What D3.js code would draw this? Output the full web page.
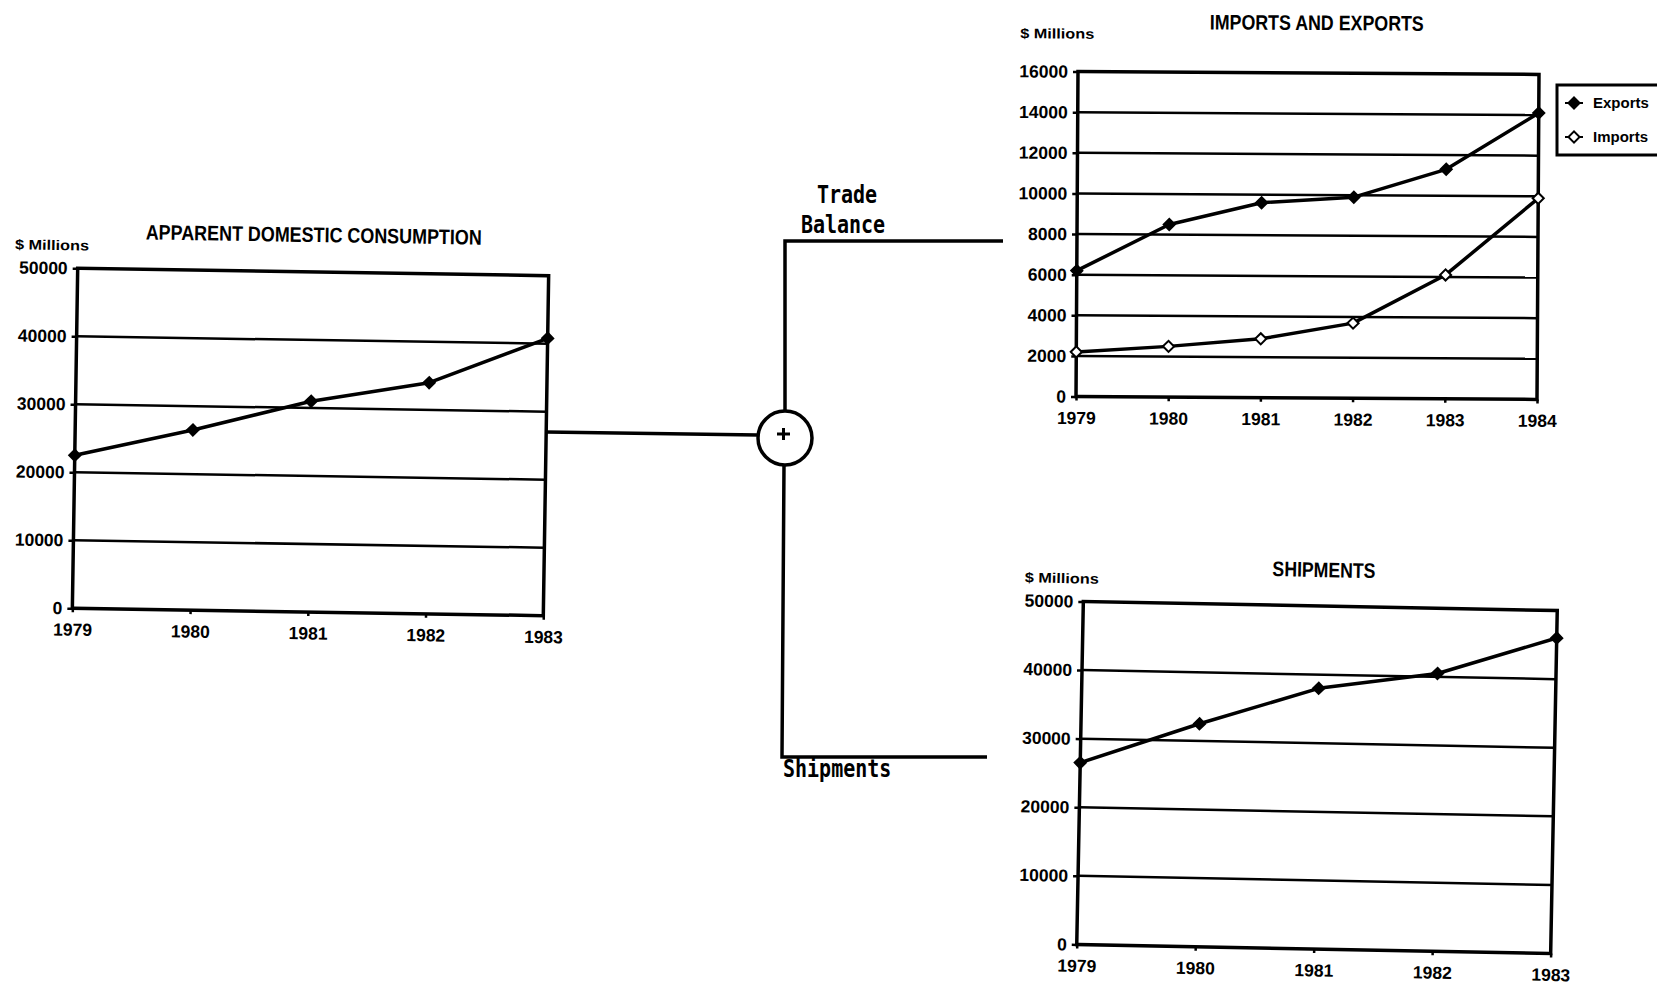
<!DOCTYPE html>
<html>
<head>
<meta charset="utf-8">
<script src="https://cdn.jsdelivr.net/npm/d3@7"></script>
<style>
  html, body { margin: 0; padding: 0; background: #fff; }
  svg { display: block; }
</style>
</head>
<body>
<svg id="chart" width="1657" height="985"></svg>
<script>
// Apparent domestic consumption, $ millions
const consumptionYears = ["1979", "1980", "1981", "1982", "1983"];
const consumptionValues = [22500, 26500, 31000, 34000, 40800];
const consumptionTicks = [0, 10000, 20000, 30000, 40000, 50000];

// Imports and exports, $ millions
const tradeYears = ["1979", "1980", "1981", "1982", "1983", "1984"];
const exportValues = [6200, 8500, 9600, 9900, 11300, 14100];
const importValues = [2200, 2500, 2900, 3700, 6100, 9900];
const tradeTicks = [0, 2000, 4000, 6000, 8000, 10000, 12000, 14000, 16000];
const tradeSeriesNames = ["Exports", "Imports"];

// Shipments, $ millions
const shipmentYears = ["1979", "1980", "1981", "1982", "1983"];
const shipmentValues = [26500, 32500, 38000, 40500, 46000];
const shipmentTicks = [0, 10000, 20000, 30000, 40000, 50000];

// Diagram labels
const titles = ["APPARENT DOMESTIC CONSUMPTION", "IMPORTS AND EXPORTS", "SHIPMENTS"];
const unitLabel = "$ Millions";
const flowLabels = ["Trade", "Balance", "Shipments"];

const svg = d3.select("#chart");
const FONT = "'Liberation Sans', Arial, Helvetica, sans-serif";
const MONO = "'DejaVu Sans Mono', 'Liberation Mono', monospace";

function diamond(sel, filled) {
  sel.attr("d", d3.symbol(d3.symbolSquare, 62))
    .attr("fill", filled ? "#000" : "#fff")
    .attr("stroke", "#000")
    .attr("stroke-width", 2);
}

function panel(cfg) {
  const cx = cfg.left + cfg.width / 2, cy = cfg.top + cfg.height / 2;
  const g = svg.append("g").attr("transform", `rotate(${cfg.angle},${cx},${cy})`);
  const x = d3.scalePoint().domain(cfg.years).range([cfg.left, cfg.left + cfg.width]);
  const y = d3.scaleLinear().domain([0, d3.max(cfg.ticks)]).range([cfg.top + cfg.height, cfg.top]);

  // horizontal gridlines
  g.append("g").selectAll("line").data(cfg.ticks.slice(1, -1)).join("line")
    .attr("x1", cfg.left).attr("x2", cfg.left + cfg.width)
    .attr("y1", d => y(d)).attr("y2", d => y(d))
    .attr("stroke", "#000").attr("stroke-width", 2.5);

  // value axis
  const yAxis = g.append("g").attr("transform", `translate(${cfg.left},0)`)
    .call(d3.axisLeft(y).tickValues(cfg.ticks).tickSize(5).tickPadding(5).tickFormat(d3.format("d")));
  yAxis.select(".domain").remove();
  yAxis.attr("font-family", FONT).attr("font-size", 17.5).attr("font-weight", "bold");
  yAxis.selectAll(".tick line").attr("stroke", "#000").attr("stroke-width", 2.5);
  yAxis.selectAll(".tick text").attr("fill", "#000");

  // year axis
  const xAxis = g.append("g").attr("transform", `translate(0,${cfg.top + cfg.height})`)
    .call(d3.axisBottom(x).tickSize(4).tickPadding(11));
  xAxis.select(".domain").remove();
  xAxis.attr("font-family", FONT).attr("font-size", 17.5).attr("font-weight", "bold");
  xAxis.selectAll(".tick line").attr("stroke", "#000").attr("stroke-width", 2.5);
  xAxis.selectAll(".tick text").attr("fill", "#000");

  // plot frame
  g.append("rect")
    .attr("x", cfg.left).attr("y", cfg.top)
    .attr("width", cfg.width).attr("height", cfg.height)
    .attr("fill", "none").attr("stroke", "#000").attr("stroke-width", 3.5);

  // series lines and markers
  cfg.series.forEach(s => {
    g.append("path").datum(s.values)
      .attr("d", d3.line().x((d, i) => x(cfg.years[i])).y(d => y(d)))
      .attr("fill", "none").attr("stroke", "#000")
      .attr("stroke-width", 3.5).attr("stroke-linejoin", "round");
    g.append("g").selectAll("path").data(s.values).join("path")
      .call(diamond, s.filled)
      .attr("transform", (d, i) => `translate(${x(cfg.years[i])},${y(d)}) rotate(45)`);
  });

  // title
  g.append("text")
    .attr("x", cx + cfg.titleDx).attr("y", cfg.top - cfg.titleDy)
    .attr("text-anchor", "middle")
    .attr("font-family", FONT).attr("font-size", 21).attr("font-weight", "bold")
    .attr("textLength", cfg.titleLen).attr("lengthAdjust", "spacingAndGlyphs")
    .text(cfg.title);

  // unit label
  g.append("text")
    .attr("x", cfg.left - cfg.unitDx).attr("y", cfg.top - cfg.unitDy)
    .attr("font-family", FONT).attr("font-size", 14).attr("font-weight", "bold")
    .attr("textLength", 74).attr("lengthAdjust", "spacingAndGlyphs")
    .text(unitLabel);

  return { x, y };
}

const consumption = { left: 75, top: 272, width: 471, height: 340 };
panel({
  ...consumption, angle: 0.9,
  years: consumptionYears, ticks: consumptionTicks,
  series: [{ values: consumptionValues, filled: true }],
  title: titles[0], titleDx: 0, titleDy: 30, titleLen: 336,
  unitDx: 63, unitDy: 18
});

const trade = { left: 1077, top: 73, width: 461, height: 325 };
panel({
  ...trade, angle: 0.35,
  years: tradeYears, ticks: tradeTicks,
  series: [{ values: exportValues, filled: true }, { values: importValues, filled: false }],
  title: titles[1], titleDx: 8, titleDy: 43, titleLen: 214,
  unitDx: 58, unitDy: 33
});

const shipments = { left: 1080, top: 606, width: 474, height: 343 };
panel({
  ...shipments, angle: 1.1,
  years: shipmentYears, ticks: shipmentTicks,
  series: [{ values: shipmentValues, filled: true }],
  title: titles[2], titleDx: 3, titleDy: 29, titleLen: 103,
  unitDx: 59, unitDy: 18
});

// legend for imports and exports
const legend = svg.append("g");
legend.append("rect")
  .attr("x", 1557).attr("y", 85).attr("width", 140).attr("height", 70)
  .attr("fill", "#fff").attr("stroke", "#000").attr("stroke-width", 3);
tradeSeriesNames.forEach((name, i) => {
  const ly = 103 + i * 34;
  legend.append("line").attr("x1", 1565).attr("x2", 1583).attr("y1", ly).attr("y2", ly)
    .attr("stroke", "#000").attr("stroke-width", 2);
  legend.append("path").call(diamond, i === 0)
    .attr("transform", `translate(1574,${ly}) rotate(45)`);
  legend.append("text").attr("x", 1593).attr("y", ly + 5)
    .attr("font-family", FONT).attr("font-size", 15).attr("font-weight", "bold")
    .text(name);
});

// summing junction joining the three panels
const node = { x: 785, y: 438, r: 27 };
const flow = svg.append("g").attr("fill", "none").attr("stroke", "#000").attr("stroke-width", 3.5);
flow.append("line")
  .attr("x1", consumption.left + consumption.width).attr("y1", 432)
  .attr("x2", node.x - node.r).attr("y2", 435);
flow.append("circle").attr("cx", node.x).attr("cy", node.y).attr("r", node.r).attr("fill", "#fff");
flow.append("polyline")
  .attr("points", [[node.x, node.y - node.r], [node.x, 241], [1003, 241]].join(" "));
flow.append("polyline")
  .attr("points", [[node.x - 1, node.y + node.r], [782, 757], [987, 757]].join(" "));
flow.append("line").attr("x1", node.x - 8).attr("x2", node.x + 5).attr("y1", node.y - 4).attr("y2", node.y - 4)
  .attr("stroke-width", 3);
flow.append("line").attr("x1", node.x - 1.5).attr("x2", node.x - 1.5).attr("y1", node.y - 10).attr("y2", node.y + 2)
  .attr("stroke-width", 3);

const flowText = (label, px, py, anchor) => svg.append("text")
  .attr("transform", `translate(${px},${py}) scale(1,1.2)`)
  .attr("text-anchor", anchor)
  .attr("font-family", MONO).attr("font-size", 20).attr("font-weight", "bold")
  .text(label);
flowText(flowLabels[0], 847, 203, "middle");
flowText(flowLabels[1], 843, 233, "middle");
flowText(flowLabels[2], 783, 777, "start");
</script>
</body>
</html>
